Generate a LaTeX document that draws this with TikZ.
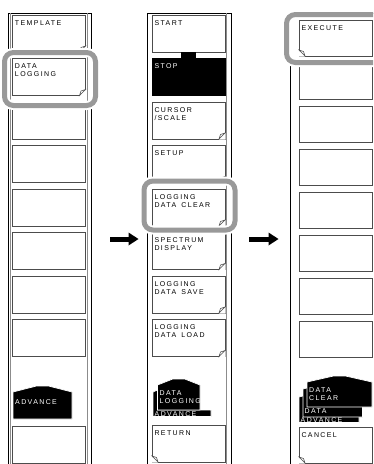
\documentclass[tikz,border=0pt]{standalone}
\usepackage{fontspec}
\setmainfont{Liberation Sans}
\newfontfamily\panelfont[LetterSpace=20]{Liberation Sans}
\newcommand\keyfont{\panelfont\fontsize{7pt}{8.3pt}\selectfont}
\newcommand\wsp{\hspace{5pt}}
\usetikzlibrary{arrows.meta,positioning,calc}
\definecolor{edge}{gray}{0.30}
\definecolor{rail}{gray}{0.55}
\definecolor{ring}{gray}{0.60}
\tikzset{
  softkey/.style={draw=edge, fill=white, line width=0.6pt, anchor=north west, outer sep=0pt,
    inner xsep=2.5pt, inner ysep=0pt, text width=68pt, align=left, text height=10pt, text depth=27pt},
  livekey/.style={softkey, fill=black, draw=black, text=white},
  shortkey/.style={softkey, text depth=26pt},
  tabfill/.style={fill=black, draw=white, line width=0.7pt},
  tabtext/.style={anchor=north west, inner sep=0pt, align=left, text=white},
  focusring/.style={draw=ring, line width=5pt, rounded corners=9pt, preaction={draw=white, line width=9pt}},
  pointer/.style={line width=5pt, -{Triangle[length=10pt,width=13pt,line width=0pt]}},
  panelframe/.style={line width=0.8pt},
  railline/.style={draw=rail, line width=0.8pt},
  foldmark/.style={draw=edge, line width=0.5pt, fill=white}
}
\newcommand\menutab[4]{\filldraw[tabfill] (#1,#4) -- (#1,#2) -- ({(#1+#3)/2-6},{#2-6}) -- ({(#1+#3)/2+6},{#2-6}) -- (#3,#2) -- (#3,#4) -- cycle;}

\begin{document}
\begin{tikzpicture}[x=1pt, y=-1pt, every node/.style={font=\keyfont}]
\useasboundingbox (0,0) rectangle (373,464);
\clip (0,0) rectangle (373,464);
\draw[panelframe] (8.5,464) -- (8.5,13) -- (91.8,13) -- (91.8,464);
\draw[railline] (10.6,13.4) -- (10.6,464) (87.6,13.4) -- (87.6,464);
\draw[panelframe] (147.8,464) -- (147.8,13) -- (231,13) -- (231,464);
\draw[railline] (226.8,13.4) -- (226.8,464);
\draw[panelframe] (290,464) -- (290,13) -- (380,13);

\foreach \i/\t in {0/TEMPLATE, 1/{DATA\\LOGGING}, 2/{}, 3/{}, 4/{}, 5/{}, 6/{}, 7/{}}
  \node[softkey] (l\i) at (12.5,{15+43.5*\i}) {\t};
\node[softkey] (l9) at (12.5,426) {};

\foreach \i/\t/\s in {0/START/softkey, 1/STOP/livekey, 2/{CURSOR\\/SCALE}/softkey, 3/SETUP/softkey,
    4/{LOGGING\\DATA\wsp CLEAR}/softkey, 5/{SPECTRUM\\DISPLAY}/softkey, 6/{LOGGING\\DATA\wsp SAVE}/softkey,
    7/{LOGGING\\DATA\wsp LOAD}/softkey}
  \node[\s] (m\i) at (152,{15+43.5*\i}) {\t};
\fill ($(m1.north)+(-7.5,-6.8)$) rectangle ($(m1.north)+(7.5,0)$);
\node[softkey] (m9) at (152,425) {RETURN};

\foreach \i/\t in {0/EXECUTE, 1/{}, 2/{}, 3/{}, 4/{}, 5/{}, 6/{}, 7/{}}
  \node[shortkey] (r\i) at (299,{20+43*\i}) {\t};
\node[shortkey] (r9) at (299,427) {CANCEL};

\foreach \b in {l0,l1,m2,m3,m4,m5,m6,m7}{
  \fill[white] ($(\b.south east)+(-6,0.6)$) -- ($(\b.south east)+(0.6,0.6)$) -- ($(\b.south east)+(0.6,-6)$) -- cycle;
  \draw[foldmark] ($(\b.south east)+(-6,0)$) -- ($(\b.south east)+(0,-6)$) -- ($(\b.south east)+(-4.5,-4.5)$) -- cycle;
}
\foreach \b in {m9,r0,r9}{
  \fill[white] ($(\b.south west)+(6,0.6)$) -- ($(\b.south west)+(-0.6,0.6)$) -- ($(\b.south west)+(-0.6,-6)$) -- cycle;
  \draw[foldmark] ($(\b.south west)+(6,0)$) -- ($(\b.south west)+(0,-6)$) -- ($(\b.south west)+(4.5,-4.5)$) -- cycle;
}

\menutab{13}{392}{72}{419}
\node[tabtext] (advl) at (15,399.5) {ADVANCE};
\filldraw[tabfill] (153,416.5) -- (153,392) -- (157.5,390) -- (157.5,410) -- (211,410) -- (211,416.5) -- cycle;
\node[tabtext] (advm) at (154.5,411) {ADVANCE};
\menutab{157.5}{385}{200}{410}
\node[tabtext] (logm) at (159.5,390) {DATA\\LOGGING};
\menutab{299}{397}{359}{422.5}
\node[tabtext] (advr) at (300.5,417) {ADVANCE};
\menutab{303}{389}{362.5}{417}
\node[tabtext] (datr) at (304.5,408.5) {DATA};
\menutab{307}{382}{372}{407}
\node[tabtext] (clrr) at (309,387) {DATA\\CLEAR};

\draw[focusring] ($(l1.north west)+(-8,-6)$) rectangle ($(l1.south east)+(10,10)$);
\draw[focusring] ($(m4.north west)+(-8,-8)$) rectangle ($(m4.south east)+(10,4)$);
\draw[focusring] ($(r0.north west)+(-12.5,-5.5)$) rectangle ($(r0.south east)+(16,6.5)$);

\coordinate (from1) at (110,239);
\coordinate (to1) at (138.5,239);
\coordinate (from2) at (249,239);
\coordinate (to2) at (278.5,239);
\draw[pointer] (from1) -- (to1);
\draw[pointer] (from2) -- (to2);
\end{tikzpicture}
\end{document}
